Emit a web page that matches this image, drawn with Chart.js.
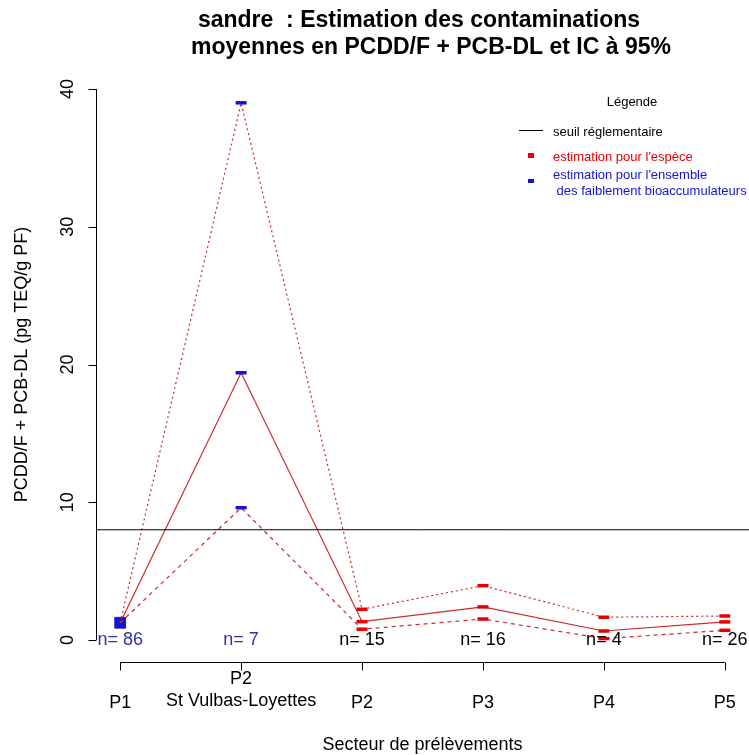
<!DOCTYPE html>
<html>
<head>
<meta charset="utf-8">
<script src="https://cdn.jsdelivr.net/npm/chart.js@4.4.0/dist/chart.umd.min.js"></script>
<style>
  body { margin: 0; background: #fff; }
  canvas { display: block; }
</style>
</head>
<body>
<canvas id="myChart" width="749" height="755"></canvas>
<script>
// DATA
const sectors = [1, 2, 3, 4, 5, 6];
const sectorLabels = ['P1', ['P2', 'St Vulbas-Loyettes'], 'P2', 'P3', 'P4', 'P5'];
const counts = ['n= 86', 'n= 7', 'n= 15', 'n= 16', 'n= 4', 'n= 26'];
const meanValues = [1.25, 19.4, 1.33, 2.4, 0.65, 1.31];
const upperValues = [1.25, 39.0, 2.23, 3.94, 1.65, 1.74];
const lowerValues = [1.25, 9.6, 0.78, 1.52, 0.1, 0.7];
const threshold = 8;
const yTicks = [0, 10, 20, 30, 40];
// true = estimate for the whole group of weak bioaccumulators (blue)
const groupEstimate = [true, true, false, false, false, false];

// COLOURS
const red = '#e60000';
const blue = '#1414d2';
const lineRed = '#cc2828';
const font = '"Liberation Sans", Arial, sans-serif';

function toPoints(values) {
  return sectors.map((x, i) => ({ x: x, y: values[i] }));
}
const markerColors = groupEstimate.map(g => g ? blue : red);

const config = {
  type: 'line',
  data: {
    datasets: [
      {
        label: 'seuil',
        data: [{ x: 0.8, y: threshold }, { x: 6.2, y: threshold }],
        borderColor: '#000',
        borderWidth: 1,
        pointRadius: 0
      },
      {
        label: 'upper',
        data: toPoints(upperValues),
        borderColor: lineRed,
        borderWidth: 1.2,
        borderDash: [2, 3],
        pointStyle: 'line',
        pointRadius: sectors.map((x, i) => i == 0 ? 0 : 5.5),
        pointBorderWidth: 3.5,
        pointBorderColor: markerColors
      },
      {
        label: 'lower',
        data: toPoints(lowerValues),
        borderColor: lineRed,
        borderWidth: 1.2,
        borderDash: [4, 4],
        pointStyle: 'line',
        pointRadius: sectors.map((x, i) => i == 0 ? 0 : 5.5),
        pointBorderWidth: 3.5,
        pointBorderColor: markerColors
      },
      {
        label: 'mean',
        data: toPoints(meanValues),
        borderColor: lineRed,
        borderWidth: 1.2,
        pointStyle: sectors.map((x, i) => i == 0 ? 'rect' : 'line'),
        pointRadius: sectors.map((x, i) => i == 0 ? 7.6 : 5.5),
        pointBorderWidth: sectors.map((x, i) => i == 0 ? 1 : 3.5),
        pointBorderColor: markerColors,
        pointBackgroundColor: markerColors
      }
    ]
  },
  options: {
    responsive: false,
    animation: false,
    devicePixelRatio: 1,
    layout: { autoPadding: false, padding: { left: 96, top: 67, right: 0, bottom: 93 } },
    scales: {
      x: { type: 'linear', min: 0.8, max: 6.2, display: false },
      y: { type: 'linear', min: -1.6, max: 41.6, display: false }
    },
    elements: { line: { tension: 0 } },
    datasets: { line: { clip: false } },
    plugins: { legend: { display: false }, title: { display: false }, tooltip: { enabled: false } }
  },
  plugins: [{
    id: 'rAxes',
    afterDraw(chart) {
      const ctx = chart.ctx;
      const xs = chart.scales.x;
      const ys = chart.scales.y;
      const area = chart.chartArea;
      ctx.save();
      ctx.strokeStyle = '#000';
      ctx.fillStyle = '#000';
      ctx.lineWidth = 1;

      // y axis
      const yAxisX = Math.round(area.left) + 0.5;
      ctx.beginPath();
      ctx.moveTo(yAxisX, ys.getPixelForValue(yTicks[0]));
      ctx.lineTo(yAxisX, ys.getPixelForValue(yTicks[yTicks.length - 1]));
      yTicks.forEach(t => {
        const py = Math.round(ys.getPixelForValue(t)) + 0.5;
        ctx.moveTo(yAxisX, py);
        ctx.lineTo(yAxisX - 8, py);
      });
      ctx.stroke();
      ctx.font = '18px ' + font;
      ctx.textAlign = 'center';
      ctx.textBaseline = 'middle';
      yTicks.forEach(t => {
        ctx.save();
        ctx.translate(68, ys.getPixelForValue(t));
        ctx.rotate(-Math.PI / 2);
        ctx.fillText(String(t), 0, 0);
        ctx.restore();
      });

      // x axis
      const xAxisY = Math.round(area.bottom) + 0.5;
      ctx.beginPath();
      ctx.moveTo(xs.getPixelForValue(sectors[0]), xAxisY);
      ctx.lineTo(xs.getPixelForValue(sectors[sectors.length - 1]), xAxisY);
      sectors.forEach(s => {
        const px = Math.round(xs.getPixelForValue(s)) + 0.5;
        ctx.moveTo(px, xAxisY);
        ctx.lineTo(px, xAxisY + 8);
      });
      ctx.stroke();
      sectors.forEach((s, i) => {
        const px = xs.getPixelForValue(s);
        const lab = sectorLabels[i];
        if (Array.isArray(lab)) {
          ctx.fillText(lab[0], px, 679);
          ctx.fillText(lab[1], px, 701);
        } else {
          ctx.fillText(lab, px, 703);
        }
      });

      // sample sizes
      sectors.forEach((s, i) => {
        ctx.fillStyle = groupEstimate[i] ? '#3232a0' : '#000';
        ctx.fillText(counts[i], xs.getPixelForValue(s), ys.getPixelForValue(0));
      });

      // axis titles
      ctx.fillStyle = '#000';
      ctx.fillText('Secteur de prélèvements', (area.left + area.right) / 2, 745);
      ctx.save();
      ctx.translate(22, (area.top + area.bottom) / 2);
      ctx.rotate(-Math.PI / 2);
      ctx.fillText('PCDD/F + PCB-DL (pg TEQ/g PF)', 0, 0);
      ctx.restore();

      // title
      ctx.font = 'bold 23px ' + font;
      ctx.fillText('sandre  : Estimation des contaminations', 419, 21);
      ctx.fillText('moyennes en PCDD/F + PCB-DL et IC à 95%', 431, 48);

      // legend
      ctx.font = '13px ' + font;
      ctx.fillText('Légende', 632, 102);
      ctx.beginPath();
      ctx.moveTo(519, 130.5);
      ctx.lineTo(543, 130.5);
      ctx.stroke();
      ctx.textAlign = 'left';
      ctx.fillText('seuil réglementaire', 553, 132);
      ctx.fillStyle = red;
      ctx.fillRect(528, 153, 6, 5);
      ctx.fillText('estimation pour l\'espèce', 553, 157);
      ctx.fillStyle = blue;
      ctx.fillRect(528, 179, 6, 4);
      ctx.fillText('estimation pour l\'ensemble', 553, 175);
      ctx.fillText(' des faiblement bioaccumulateurs', 553, 191);
      ctx.restore();
    }
  }]
};

const myChart = new Chart(document.getElementById('myChart'), config);
</script>
</body>
</html>
